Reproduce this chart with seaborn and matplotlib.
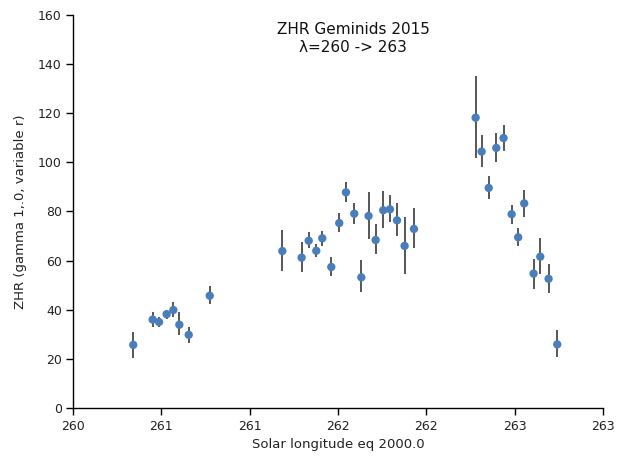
import numpy as np
import pandas as pd
import matplotlib
matplotlib.use("Agg")
import matplotlib.pyplot as plt
import seaborn as sns

# Solar longitude (eq. 2000.0) of each observation interval
sol_long = [260.341, 260.451, 260.487, 260.530, 260.568, 260.602, 260.655, 260.774,
            261.185, 261.294, 261.334, 261.377, 261.411, 261.462, 261.507, 261.545,
            261.592, 261.632, 261.673, 261.713, 261.756, 261.794, 261.834, 261.877,
            261.930, 262.279, 262.313, 262.353, 262.396, 262.437, 262.483, 262.520,
            262.554, 262.607, 262.645, 262.692, 262.741]
# ZHR estimate with lower / upper bound of its uncertainty
zhr = [25.7, 36.0, 35.0, 38.2, 39.9, 33.9, 29.8, 45.7,
       63.9, 61.2, 68.1, 64.0, 69.1, 57.4, 75.3, 87.8,
       79.1, 53.2, 78.2, 68.4, 80.5, 80.9, 76.4, 66.0,
       72.9, 118.2, 104.4, 89.6, 105.9, 109.9, 78.9, 69.5,
       83.3, 54.7, 61.6, 52.6, 25.9]
zhr_lo = [20.2, 33.1, 33.1, 36.1, 37.2, 29.7, 26.6, 42.3,
          55.9, 55.3, 65.0, 61.4, 66.0, 53.9, 71.5, 83.8,
          74.9, 47.1, 68.7, 62.7, 73.2, 75.9, 70.0, 54.4,
          65.0, 101.7, 98.0, 85.2, 100.0, 104.8, 75.0, 66.1,
          77.9, 48.5, 54.4, 46.7, 20.6]
zhr_hi = [31.1, 39.0, 37.1, 39.6, 43.0, 39.0, 33.1, 49.7,
          72.5, 67.7, 71.8, 66.8, 72.2, 61.4, 79.5, 92.1,
          83.6, 60.3, 88.1, 74.9, 88.5, 86.7, 83.3, 77.9,
          81.6, 135.2, 111.2, 94.6, 111.8, 115.2, 82.6, 73.2,
          88.8, 60.7, 69.1, 58.6, 31.8]

x_ticks = [260.0, 260.5, 261.0, 261.5, 262.0, 262.5, 263.0]
y_ticks = [0, 20, 40, 60, 80, 100, 120, 140, 160]

df = pd.DataFrame({"sol": sol_long, "zhr": zhr, "lo": zhr_lo, "hi": zhr_hi})

sns.set_theme(style="white")
plt.rcParams["font.family"] = ["DejaVu Sans"]

fig = plt.figure(figsize=(6.17, 4.59), dpi=100)
ax = fig.add_axes([73 / 617, 1 - 408 / 459, (603 - 73) / 617, (408 - 15) / 459])

yerr = np.vstack([df["zhr"] - df["lo"], df["hi"] - df["zhr"]])
ax.errorbar(df["sol"], df["zhr"], yerr=yerr, fmt="none", ecolor="#3a3a3a",
            elinewidth=1.2, capsize=0, zorder=2)
sns.scatterplot(data=df, x="sol", y="zhr", ax=ax, color="#4a7ebb", s=36,
                edgecolor="none", zorder=3)

ax.set_xlim(260, 263)
ax.set_ylim(0, 160)
ax.set_xticks(x_ticks)
ax.set_xticklabels([str(int(np.floor(t + 0.5))) for t in x_ticks])
ax.set_yticks(y_ticks)

for side in ("top", "right"):
    ax.spines[side].set_visible(False)
for side in ("left", "bottom"):
    ax.spines[side].set_color("black")
    ax.spines[side].set_linewidth(1.0)
ax.tick_params(axis="both", direction="out", length=5, width=1.0, color="black",
               labelsize=9, labelcolor="#222222", bottom=True, left=True)
ax.tick_params(axis="y", pad=3)
ax.tick_params(axis="x", pad=4)

ax.set_xlabel("Solar longitude eq 2000.0", fontsize=9.5, color="#222222", labelpad=3)
ax.set_ylabel("ZHR (gamma 1,.0, variable r)", fontsize=9.5, color="#222222", labelpad=8)

fig.text(353 / 617, 1 - 39 / 459, "ZHR Geminids 2015\n\u03bb=260 -> 263",
         ha="center", va="center", fontsize=11, color="#111111", linespacing=1.25)

fig.savefig("out.png", dpi=100)
